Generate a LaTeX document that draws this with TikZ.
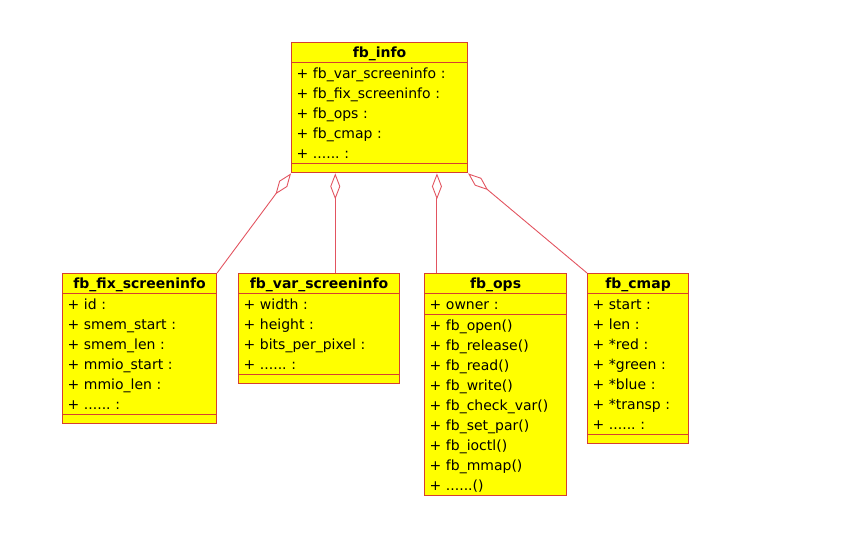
\documentclass[tikz,border=0pt]{standalone}
\usepackage{fontspec}
\setmainfont{DejaVu Sans}
\usetikzlibrary{arrows.meta,shapes.multipart,calc}
\definecolor{umlfill}{RGB}{255,255,0}
\definecolor{umlborder}{RGB}{214,64,48}
\definecolor{umlline}{RGB}{226,84,96}
\frenchspacing
\newcommand{\mrow}[1]{\rule[-4.5pt]{0pt}{20pt}#1}
\newcommand{\ctitle}[1]{\hbox to\hsize{\hss\rule[-5pt]{0pt}{19pt}\textbf{#1}\hss}}
\newcommand{\noops}{\rule{0pt}{8pt}}
\tikzset{
  cls/.style={rectangle split, rectangle split parts=3, draw=umlborder,
              line width=1.1pt, fill=umlfill, inner xsep=5pt, inner ysep=0pt,
              align=left, font=\fontsize{14}{20}\selectfont, anchor=north west},
  agg/.style={draw=umlline, line width=0.9pt,
              {Diamond[open, length=26pt, width=10pt]}-},
}
\begin{document}
\begin{tikzpicture}[x=1pt, y=-1pt]
  \useasboundingbox (0,0) rectangle (868,547);
  % classes
  \node[cls, text width=166pt] (info) at (291,42) {\ctitle{fb\_info}
    \nodepart{second}\mrow{+ fb\_var\_screeninfo :}\\ \mrow{+ fb\_fix\_screeninfo :}\\
    \mrow{+ fb\_ops :}\\ \mrow{+ fb\_cmap :}\\ \mrow{+ ...... :}
    \nodepart{third}\noops};
  \node[cls, text width=144pt] (fix) at (62,273) {\ctitle{fb\_fix\_screeninfo}
    \nodepart{second}\mrow{+ id :}\\ \mrow{+ smem\_start :}\\ \mrow{+ smem\_len :}\\
    \mrow{+ mmio\_start :}\\ \mrow{+ mmio\_len :}\\ \mrow{+ ...... :}
    \nodepart{third}\noops};
  \node[cls, text width=151pt] (var) at (238,273) {\ctitle{fb\_var\_screeninfo}
    \nodepart{second}\mrow{+ width :}\\ \mrow{+ height :}\\
    \mrow{+ bits\_per\_pixel :}\\ \mrow{+ ...... :}
    \nodepart{third}\noops};
  \node[cls, text width=132pt] (ops) at (424,273) {\ctitle{fb\_ops}
    \nodepart{second}\mrow{+ owner :}
    \nodepart{third}\mrow{+ fb\_open()}\\ \mrow{+ fb\_release()}\\ \mrow{+ fb\_read()}\\
    \mrow{+ fb\_write()}\\ \mrow{+ fb\_check\_var()}\\ \mrow{+ fb\_set\_par()}\\
    \mrow{+ fb\_ioctl()}\\ \mrow{+ fb\_mmap()}\\ \mrow{+ ......()}};
  \node[cls, text width=91pt] (cmap) at (587,273) {\ctitle{fb\_cmap}
    \nodepart{second}\mrow{+ start :}\\ \mrow{+ len :}\\ \mrow{+ *red :}\\
    \mrow{+ *green :}\\ \mrow{+ *blue :}\\ \mrow{+ *transp :}\\ \mrow{+ ...... :}
    \nodepart{third}\noops};
  % aggregations
  \coordinate (pv) at ($(info.south west)!0.25!(info.south east)$);
  \coordinate (po) at ($(info.south west)!0.824!(info.south east)$);
  \draw[agg] (info.south west) -- (fix.north east);
  \draw[agg] (pv) -- (pv |- var.north);
  \draw[agg] (po) -- (po |- ops.north);
  \draw[agg] (info.south east) -- (cmap.north west);
\end{tikzpicture}
\end{document}
